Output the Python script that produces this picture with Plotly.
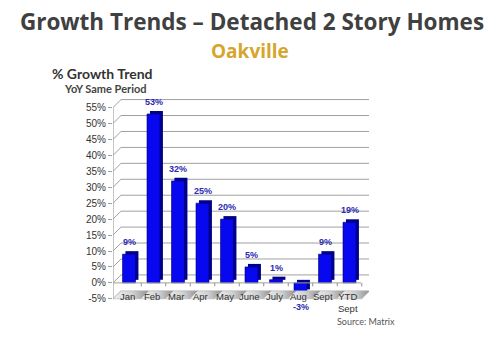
import plotly.graph_objects as go

# Year-over-year growth, detached 2-storey homes, Oakville
months = ["Jan", "Feb", "Mar", "Apr", "May", "June", "July", "Aug", "Sept", "YTD<br>Sept"]
growth = [9, 53, 32, 25, 20, 5, 1, -3, 9, 19]
y_ticks = list(range(-5, 60, 5))
y_tick_text = [f"{t}%" for t in y_ticks]

idx = list(range(len(months)))

# pseudo-3D geometry (data units)
X_MIN, X_MAX = -0.653, 9.796
Y_MIN, Y_MAX = -6, 58
WALL_DX, WALL_DY = 0.3265, 2.5      # depth of the back wall
BAR_W = 0.53
BAR_DX, BAR_DY = 0.12, 0.95          # depth of each bar

fig = go.Figure()

# floor tabs with a shaded gradient
for i in idx:
    x0 = X_MIN if i == 0 else i - 0.5
    x1 = i + 0.5
    fig.add_trace(go.Scatter(
        x=[x0, x1, x1 + WALL_DX, x0 + WALL_DX, x0],
        y=[-5, -5, -5 + WALL_DY, -5 + WALL_DY, -5],
        mode="lines", line=dict(width=0), fill="toself",
        fillgradient=dict(type="horizontal",
                          colorscale=[[0, "#f0f0f0"], [0.55, "#d0d0d0"], [1, "#8e8e8e"]]),
        hoverinfo="skip", showlegend=False,
    ))

# bar sides / tops
fig.add_trace(go.Bar(
    x=idx, y=[abs(v) for v in growth], base=[min(v, 0) + BAR_DY for v in growth],
    width=BAR_W, offset=-BAR_W / 2 + BAR_DX,
    marker=dict(color="#00008a", line=dict(width=0)),
    hoverinfo="skip", showlegend=False,
))
# bar fronts
fig.add_trace(go.Bar(
    x=idx, y=growth, width=BAR_W, offset=-BAR_W / 2,
    marker=dict(color="#0707f0", line=dict(color="#00006e", width=0.6)),
    showlegend=False,
))

shapes = []
grid_col = "#a0a0a0"
for t in y_ticks:
    if t >= 0:
        shapes.append(dict(type="line", xref="x", yref="y", layer="below",
                           x0=X_MIN + WALL_DX, x1=X_MAX, y0=t + WALL_DY, y1=t + WALL_DY,
                           line=dict(color=grid_col, width=1)))
    shapes.append(dict(type="line", xref="x", yref="y", layer="below",
                       x0=X_MIN, x1=X_MIN + WALL_DX, y0=t, y1=t + WALL_DY,
                       line=dict(color=grid_col, width=1)))
# front value axis
shapes.append(dict(type="line", xref="x", yref="y", x0=X_MIN, x1=X_MIN, y0=-5, y1=55,
                   line=dict(color="#a0a0a0", width=1.2)))
# zero line with category ticks
shapes.append(dict(type="line", xref="x", yref="y", x0=X_MIN, x1=9.47, y0=0, y1=0,
                   line=dict(color="#a0a0a0", width=1)))
for i in idx:
    shapes.append(dict(type="line", xref="x", yref="y", x0=i + 0.5, x1=i + 0.5, y0=0, y1=-1.1,
                       line=dict(color="#909090", width=1)))
# floor outline
shapes.append(dict(type="path", xref="x", yref="y",
                   path=f"M{X_MIN},-5 L9.5,-5 L{9.5 + WALL_DX},{-5 + WALL_DY} L{X_MIN + WALL_DX},{-5 + WALL_DY} Z",
                   line=dict(color="#b0b0b0", width=0.6)))

annotations = []
label_font = dict(family="Liberation Sans, Arial, sans-serif", size=9, color="#2a2ab0")
for i, v in zip(idx, growth):
    if v >= 0:
        annotations.append(dict(x=i, y=v, xref="x", yref="y", text=f"<b>{v}%</b>",
                                showarrow=False, yanchor="bottom", yshift=5, font=label_font))
    else:
        annotations.append(dict(x=i, y=v, xref="x", yref="y", text=f"<b>{v}%</b>",
                                showarrow=False, yanchor="top", yshift=-8, font=label_font))

cat_font = dict(family="Liberation Sans Narrow, Liberation Sans, Arial, sans-serif", size=9.5, color="#333333")
for i, m in zip(idx, months):
    annotations.append(dict(x=i, y=-5, xref="x", yref="y", text=m, showarrow=False,
                            yanchor="top", yshift=10, xshift=-2, font=cat_font))

head_font = "Open Sans, Lato, sans-serif"
annotations += [
    dict(x=0.535, y=1.230, xref="paper", yref="paper", text="<b>Oakville</b>", showarrow=False,
         xanchor="center", yanchor="middle",
         font=dict(family=head_font, size=19, color="#d6a52c")),
    dict(x=-0.246, y=1.118, xref="paper", yref="paper", text="<b>% Growth Trend</b>", showarrow=False,
         xanchor="left", yanchor="middle",
         font=dict(family="Lato, Open Sans, sans-serif", size=14, color="#333333")),
    dict(x=-0.199, y=1.049, xref="paper", yref="paper", text="<b>YoY Same Period</b>", showarrow=False,
         xanchor="left", yanchor="middle",
         font=dict(family="Lato, Open Sans, sans-serif", size=11, color="#444444")),
    dict(x=0.867, y=-0.098, xref="paper", yref="paper", text="Source: Matrix", showarrow=False,
         xanchor="left", yanchor="middle",
         font=dict(family="Lato, Open Sans, sans-serif", size=9, color="#555555")),
]

fig.update_layout(
    width=504, height=339,
    margin=dict(l=113, r=135, t=98, b=37),
    paper_bgcolor="white", plot_bgcolor="white",
    barmode="overlay",
    title=dict(text="<b>Growth Trends – Detached 2 Story Homes</b>",
               x=0.5, xref="container", xanchor="center",
               y=1 - 22 / 339, yref="container", yanchor="middle",
               font=dict(family=head_font, size=22.5, color="#404040")),
    xaxis=dict(range=[X_MIN, X_MAX], showgrid=False, zeroline=False, showline=False,
               showticklabels=False, ticks="", fixedrange=True),
    yaxis=dict(range=[Y_MIN, Y_MAX], tickvals=y_ticks, ticktext=y_tick_text,
               showgrid=False, zeroline=False, showline=False,
               ticks="outside", ticklen=4, tickcolor="#a0a0a0",
               tickfont=dict(family="Liberation Sans, Arial, sans-serif", size=10, color="#333333"),
               fixedrange=True),
    shapes=shapes,
    annotations=annotations,
    showlegend=False,
)

fig.write_html("out.html")
